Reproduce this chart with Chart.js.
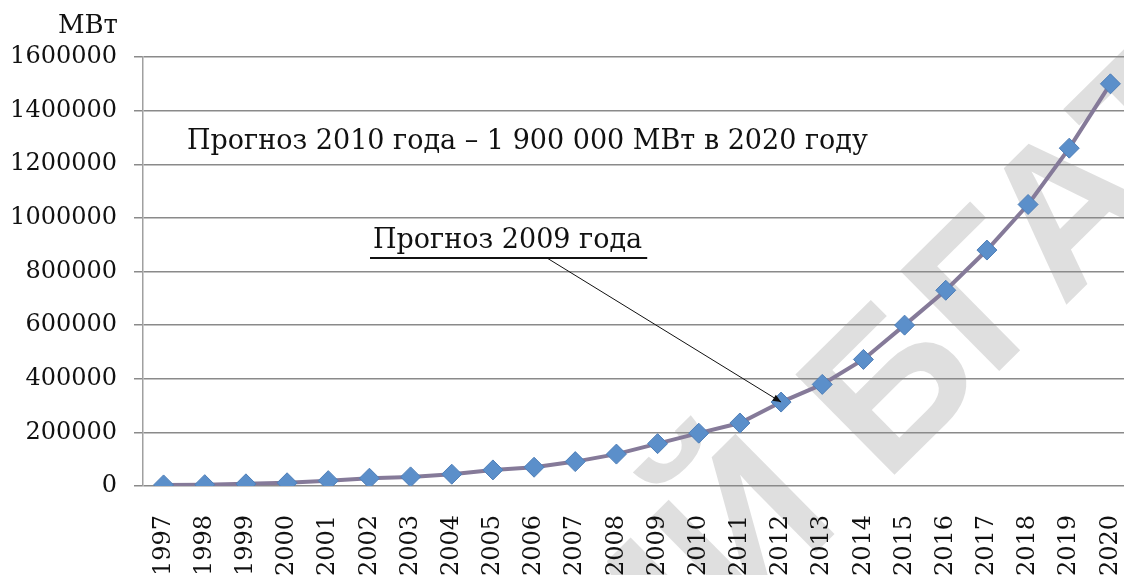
<!DOCTYPE html>
<html><head><meta charset="utf-8">
<script src="https://cdn.jsdelivr.net/npm/chart.js@4/dist/chart.umd.min.js"></script>
<style>html,body{margin:0;padding:0;background:#fff;overflow:hidden}#wrap{width:1142px;height:575px;position:relative}</style>
</head><body><div id="wrap"><canvas id="c"></canvas></div>
<script>
const years = ['1997','1998','1999','2000','2001','2002','2003','2004','2005','2006','2007','2008','2009','2010','2011','2012','2013','2014','2015','2016','2017','2018','2019','2020'];
const capacityMW = [4000,5000,8000,12000,20000,29000,34000,44000,60000,70000,91000,119000,158000,197000,235000,313000,379000,472000,600000,730000,880000,1050000,1260000,1500000];
const yTickValues = [0,200000,400000,600000,800000,1000000,1200000,1400000,1600000];
const unitLabel = 'МВт';
const note2010 = 'Прогноз 2010 года – 1 900 000 МВт в 2020 году';
const note2009 = 'Прогноз 2009 года';
const note2009Year = '2012';
const watermarkText = 'РЕПОЗИТОРИЙ БГАТУ';

const SERIF = '"DejaVu Serif", "Liberation Serif", serif';

const watermark = {
  id: 'watermark',
  beforeDraw(chart) {
    const ctx = chart.ctx;
    ctx.save();
    ctx.fillStyle = '#fff';
    ctx.fillRect(0, 0, chart.width, chart.height);
    ctx.font = 'bold 205px "Liberation Sans", sans-serif';
    ctx.fillStyle = 'rgba(120,120,120,0.24)';
    ctx.textBaseline = 'alphabetic';
    ctx.textAlign = 'left';
    const pre = ctx.measureText('РЕПОЗИТОРИЙ ').width;
    const bw = ctx.measureText('Б').width;
    ctx.translate(885, 380);
    ctx.rotate(-0.78);
    ctx.fillText(watermarkText, -pre - bw / 2, 74);
    ctx.restore();
  }
};

const notes = {
  id: 'notes',
  afterDatasetsDraw(chart) {
    const ctx = chart.ctx;
    const xs = chart.scales.x, ys = chart.scales.y;
    ctx.save();
    ctx.fillStyle = '#111';
    ctx.textBaseline = 'alphabetic';
    ctx.font = '26px ' + SERIF;
    ctx.textAlign = 'right';
    ctx.fillText(unitLabel, 118, 33);
    ctx.font = '27px ' + SERIF;
    ctx.textAlign = 'left';
    ctx.fillText(note2010, 187, 149);
    ctx.fillText(note2009, 373, 248);
    const w = ctx.measureText(note2009).width;
    ctx.strokeStyle = '#111';
    ctx.lineWidth = 2;
    ctx.beginPath();
    ctx.moveTo(370, 258); ctx.lineTo(373 + w + 5, 258); ctx.stroke();
    const i = years.indexOf(note2009Year);
    const tx = xs.getPixelForValue(i), ty = ys.getPixelForValue(capacityMW[i]);
    const sx = 547, sy = 258;
    ctx.lineWidth = 1;
    ctx.beginPath(); ctx.moveTo(sx, sy); ctx.lineTo(tx, ty); ctx.stroke();
    const a = Math.atan2(ty - sy, tx - sx);
    ctx.beginPath();
    ctx.moveTo(tx, ty);
    ctx.lineTo(tx - 9 * Math.cos(a - 0.4), ty - 9 * Math.sin(a - 0.4));
    ctx.lineTo(tx - 9 * Math.cos(a + 0.4), ty - 9 * Math.sin(a + 0.4));
    ctx.closePath(); ctx.fill();
    ctx.restore();
  }
};

new Chart(document.getElementById('c'), {
  type: 'line',
  data: {
    labels: years,
    datasets: [{
      data: capacityMW,
      borderColor: '#857a99',
      borderWidth: 4,
      tension: 0,
      pointStyle: 'rectRot',
      pointRadius: 10,
      pointHoverRadius: 10,
      pointBackgroundColor: '#5b8fca',
      pointBorderColor: '#4f7fb8',
      pointBorderWidth: 1
    }]
  },
  options: {
    responsive: true,
    maintainAspectRatio: false,
    animation: false,
    events: [],
    layout: { padding: { top: 57, right: 0, left: 0, bottom: 0 } },
    plugins: { legend: { display: false }, tooltip: { enabled: false } },
    scales: {
      x: {
        offset: true,
        grid: { display: false, drawTicks: false },
        border: { display: false },
        ticks: {
          color: '#111',
          font: { family: SERIF, size: 24 },
          minRotation: 90, maxRotation: 90,
          padding: 29,
          autoSkip: false
        },
        afterFit(s) { s.height = 89; s.paddingLeft = 0; s.paddingRight = 0; }
      },
      y: {
        min: 0, max: 1600000,
        afterBuildTicks(s) { s.ticks = yTickValues.map(v => ({ value: v })); },
        grid: { color: '#8a8a8a', lineWidth: 1.5, drawTicks: true, tickLength: 9 },
        border: { display: true, color: '#a0a0a0', width: 1.5 },
        ticks: {
          color: '#111',
          font: { family: SERIF, size: 24 },
          padding: 17,
          callback: v => String(v)
        },
        afterFit(s) { s.width = 143; s.paddingTop = 0; s.paddingBottom = 0; }
      }
    }
  },
  plugins: [watermark, notes]
});
</script>
</body></html>
